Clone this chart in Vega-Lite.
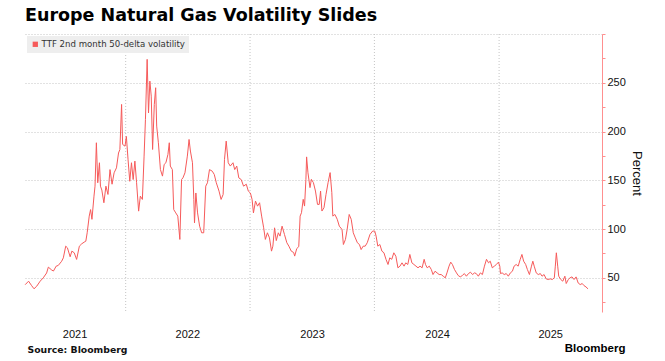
{
  "$schema": "https://vega.github.io/schema/vega-lite/v6.json",
  "width": 577,
  "height": 278,
  "autosize": {"type": "none"},
  "padding": {"left": 25, "top": 34, "right": 63, "bottom": 49},
  "background": "white",
  "title": {"text": "Europe Natural Gas Volatility Slides", "anchor": "start", "frame": "group", "font": "DejaVu Sans", "fontSize": 17.5, "fontWeight": "bold", "color": "#000000", "offset": 4},
  "datasets": {
    "grid": [{"date": "2022-01-01"}, {"date": "2023-01-01"}, {"date": "2024-01-01"}, {"date": "2025-01-01"}],
    "vol": [
      {"date": "2021-03-12", "v": 43}, {"date": "2021-03-22", "v": 46.6}, {"date": "2021-03-31", "v": 42}, {"date": "2021-04-07", "v": 38.8}, {"date": "2021-04-15", "v": 41.5}, {"date": "2021-04-25", "v": 46.6}, {"date": "2021-05-04", "v": 50}, {"date": "2021-05-14", "v": 55}, {"date": "2021-05-19", "v": 61}, {"date": "2021-05-29", "v": 58}, {"date": "2021-06-03", "v": 57}, {"date": "2021-06-11", "v": 62}, {"date": "2021-06-17", "v": 62.7}, {"date": "2021-06-27", "v": 67}, {"date": "2021-07-02", "v": 70.5}, {"date": "2021-07-09", "v": 82.5}, {"date": "2021-07-14", "v": 80.8}, {"date": "2021-07-22", "v": 71.6}, {"date": "2021-07-27", "v": 77.4}, {"date": "2021-08-03", "v": 75.7}, {"date": "2021-08-10", "v": 68.9}, {"date": "2021-08-18", "v": 82.5}, {"date": "2021-08-25", "v": 84.9}, {"date": "2021-09-01", "v": 86.6}, {"date": "2021-09-06", "v": 87.6}, {"date": "2021-09-10", "v": 96.2}, {"date": "2021-09-16", "v": 113.3}, {"date": "2021-09-20", "v": 120}, {"date": "2021-09-24", "v": 110}, {"date": "2021-09-30", "v": 133.8}, {"date": "2021-10-03", "v": 144}, {"date": "2021-10-07", "v": 188.5}, {"date": "2021-10-11", "v": 147.5}, {"date": "2021-10-16", "v": 168}, {"date": "2021-10-19", "v": 144}, {"date": "2021-10-23", "v": 140}, {"date": "2021-10-29", "v": 127}, {"date": "2021-11-04", "v": 144}, {"date": "2021-11-10", "v": 135.5}, {"date": "2021-11-16", "v": 161}, {"date": "2021-11-22", "v": 146}, {"date": "2021-11-28", "v": 157.7}, {"date": "2021-12-05", "v": 162.8}, {"date": "2021-12-11", "v": 178}, {"date": "2021-12-15", "v": 181.6}, {"date": "2021-12-20", "v": 227.8}, {"date": "2021-12-23", "v": 186.8}, {"date": "2021-12-30", "v": 185},
      {"date": "2022-01-03", "v": 195}, {"date": "2022-01-08", "v": 171}, {"date": "2022-01-13", "v": 149}, {"date": "2022-01-18", "v": 168}, {"date": "2022-01-23", "v": 150.8}, {"date": "2022-01-28", "v": 169.7}, {"date": "2022-02-02", "v": 147.5}, {"date": "2022-02-08", "v": 118.4}, {"date": "2022-02-13", "v": 133.8}, {"date": "2022-02-19", "v": 130.4}, {"date": "2022-02-24", "v": 174.8}, {"date": "2022-02-28", "v": 212.4}, {"date": "2022-03-05", "v": 274}, {"date": "2022-03-09", "v": 219}, {"date": "2022-03-13", "v": 251.7}, {"date": "2022-03-17", "v": 236.3}, {"date": "2022-03-21", "v": 181.6}, {"date": "2022-03-26", "v": 227.8}, {"date": "2022-03-30", "v": 244.9}, {"date": "2022-04-02", "v": 205.6}, {"date": "2022-04-07", "v": 188.5}, {"date": "2022-04-13", "v": 161}, {"date": "2022-04-19", "v": 154.3}, {"date": "2022-04-24", "v": 166.3}, {"date": "2022-04-29", "v": 168}, {"date": "2022-05-05", "v": 176.5}, {"date": "2022-05-09", "v": 188.5}, {"date": "2022-05-12", "v": 164.6}, {"date": "2022-05-18", "v": 161}, {"date": "2022-05-22", "v": 120}, {"date": "2022-05-28", "v": 116.6}, {"date": "2022-06-03", "v": 113.3}, {"date": "2022-06-09", "v": 89.4}, {"date": "2022-06-14", "v": 150.8}, {"date": "2022-06-18", "v": 152.5}, {"date": "2022-06-24", "v": 157.7}, {"date": "2022-07-01", "v": 174.8}, {"date": "2022-07-06", "v": 191.9}, {"date": "2022-07-10", "v": 180}, {"date": "2022-07-16", "v": 168}, {"date": "2022-07-20", "v": 130.4}, {"date": "2022-07-22", "v": 106.4}, {"date": "2022-07-26", "v": 137}, {"date": "2022-07-31", "v": 116.6}, {"date": "2022-08-06", "v": 103}, {"date": "2022-08-12", "v": 96.2}, {"date": "2022-08-18", "v": 96.2}, {"date": "2022-08-24", "v": 144}, {"date": "2022-08-29", "v": 147.5}, {"date": "2022-09-04", "v": 161}, {"date": "2022-09-12", "v": 159.4}, {"date": "2022-09-18", "v": 156}, {"date": "2022-09-24", "v": 147.5}, {"date": "2022-10-02", "v": 138.9}, {"date": "2022-10-08", "v": 130.4}, {"date": "2022-10-14", "v": 135.5}, {"date": "2022-10-18", "v": 171.4}, {"date": "2022-10-23", "v": 190.2}, {"date": "2022-10-29", "v": 168}, {"date": "2022-11-04", "v": 164.6}, {"date": "2022-11-12", "v": 168}, {"date": "2022-11-17", "v": 161}, {"date": "2022-11-23", "v": 164.6}, {"date": "2022-11-29", "v": 152.5}, {"date": "2022-12-06", "v": 150.8}, {"date": "2022-12-13", "v": 144}, {"date": "2022-12-21", "v": 146}, {"date": "2022-12-27", "v": 138.9},
      {"date": "2023-01-02", "v": 137}, {"date": "2023-01-07", "v": 130.4}, {"date": "2023-01-11", "v": 116.6}, {"date": "2023-01-17", "v": 128.7}, {"date": "2023-01-23", "v": 123.5}, {"date": "2023-01-29", "v": 127}, {"date": "2023-02-04", "v": 113.3}, {"date": "2023-02-10", "v": 101.3}, {"date": "2023-02-15", "v": 89.4}, {"date": "2023-02-21", "v": 96.2}, {"date": "2023-02-27", "v": 91}, {"date": "2023-03-05", "v": 77.4}, {"date": "2023-03-09", "v": 82.5}, {"date": "2023-03-14", "v": 101.3}, {"date": "2023-03-19", "v": 88.2}, {"date": "2023-03-25", "v": 96.2}, {"date": "2023-03-30", "v": 92.8}, {"date": "2023-04-05", "v": 103}, {"date": "2023-04-12", "v": 94.5}, {"date": "2023-04-19", "v": 86}, {"date": "2023-04-25", "v": 82.5}, {"date": "2023-05-02", "v": 77.4}, {"date": "2023-05-09", "v": 76}, {"date": "2023-05-12", "v": 72.3}, {"date": "2023-05-18", "v": 80}, {"date": "2023-05-24", "v": 82}, {"date": "2023-05-28", "v": 113.3}, {"date": "2023-06-01", "v": 116.8}, {"date": "2023-06-06", "v": 130.5}, {"date": "2023-06-10", "v": 123.6}, {"date": "2023-06-14", "v": 151}, {"date": "2023-06-16", "v": 174}, {"date": "2023-06-20", "v": 157.7}, {"date": "2023-06-26", "v": 142.5}, {"date": "2023-06-30", "v": 151}, {"date": "2023-07-06", "v": 147.6}, {"date": "2023-07-12", "v": 139}, {"date": "2023-07-18", "v": 125.3}, {"date": "2023-07-23", "v": 125.3},
      {"date": "2023-07-27", "v": 139}, {"date": "2023-07-31", "v": 118.5}, {"date": "2023-08-06", "v": 121.9}, {"date": "2023-08-12", "v": 135.6}, {"date": "2023-08-18", "v": 147.6}, {"date": "2023-08-24", "v": 157.9}, {"date": "2023-08-29", "v": 137.3}, {"date": "2023-09-01", "v": 113.3}, {"date": "2023-09-07", "v": 115}, {"date": "2023-09-14", "v": 110}, {"date": "2023-09-20", "v": 103}, {"date": "2023-09-28", "v": 99.6}, {"date": "2023-10-02", "v": 84.2}, {"date": "2023-10-08", "v": 89.4}, {"date": "2023-10-13", "v": 99.6}, {"date": "2023-10-19", "v": 115}, {"date": "2023-10-25", "v": 110}, {"date": "2023-10-31", "v": 96.2}, {"date": "2023-11-06", "v": 91}, {"date": "2023-11-12", "v": 86}, {"date": "2023-11-18", "v": 84.2}, {"date": "2023-11-23", "v": 79}, {"date": "2023-11-29", "v": 82.5}, {"date": "2023-12-05", "v": 82.5}, {"date": "2023-12-11", "v": 86}, {"date": "2023-12-19", "v": 94.5}, {"date": "2023-12-27", "v": 98},
      {"date": "2024-01-02", "v": 98}, {"date": "2024-01-06", "v": 92.8}, {"date": "2024-01-11", "v": 82.5}, {"date": "2024-01-17", "v": 84.2}, {"date": "2024-01-23", "v": 77.4}, {"date": "2024-01-29", "v": 75.7}, {"date": "2024-02-04", "v": 69}, {"date": "2024-02-10", "v": 63.7}, {"date": "2024-02-15", "v": 70.5}, {"date": "2024-02-21", "v": 69}, {"date": "2024-02-27", "v": 75.7}, {"date": "2024-03-04", "v": 72.2}, {"date": "2024-03-10", "v": 60.3}, {"date": "2024-03-16", "v": 62}, {"date": "2024-03-22", "v": 65.4}, {"date": "2024-03-28", "v": 62}, {"date": "2024-04-02", "v": 65.4}, {"date": "2024-04-08", "v": 63.7}, {"date": "2024-04-14", "v": 74}, {"date": "2024-04-20", "v": 65.4}, {"date": "2024-04-26", "v": 63.7}, {"date": "2024-05-02", "v": 62}, {"date": "2024-05-08", "v": 60.3}, {"date": "2024-05-14", "v": 62}, {"date": "2024-05-20", "v": 60.3}, {"date": "2024-05-26", "v": 69}, {"date": "2024-05-30", "v": 63.7}, {"date": "2024-06-04", "v": 60.3}, {"date": "2024-06-10", "v": 62}, {"date": "2024-06-16", "v": 58.6}, {"date": "2024-06-21", "v": 53.4}, {"date": "2024-06-27", "v": 56.8}, {"date": "2024-07-03", "v": 55.1}, {"date": "2024-07-09", "v": 53.4}, {"date": "2024-07-15", "v": 53.4}, {"date": "2024-07-21", "v": 51.7}, {"date": "2024-07-27", "v": 50}, {"date": "2024-08-01", "v": 55.1}, {"date": "2024-08-07", "v": 62}, {"date": "2024-08-12", "v": 66.1}, {"date": "2024-08-17", "v": 63.7}, {"date": "2024-08-23", "v": 58.6}, {"date": "2024-08-29", "v": 55.1}, {"date": "2024-09-03", "v": 52.4}, {"date": "2024-09-09", "v": 51}, {"date": "2024-09-15", "v": 52.4}, {"date": "2024-09-21", "v": 54.4}, {"date": "2024-09-27", "v": 51.7}, {"date": "2024-10-03", "v": 54.4}, {"date": "2024-10-09", "v": 55.8}, {"date": "2024-10-15", "v": 53.4}, {"date": "2024-10-21", "v": 55.1}, {"date": "2024-10-26", "v": 54.4}, {"date": "2024-11-01", "v": 51.7}, {"date": "2024-11-07", "v": 55.1}, {"date": "2024-11-13", "v": 53.4}, {"date": "2024-11-19", "v": 62}, {"date": "2024-11-25", "v": 69}, {"date": "2024-12-01", "v": 65.4}, {"date": "2024-12-06", "v": 67.1}, {"date": "2024-12-12", "v": 60.3}, {"date": "2024-12-18", "v": 62}, {"date": "2024-12-24", "v": 63.7}, {"date": "2024-12-30", "v": 66.1},
      {"date": "2025-01-03", "v": 62}, {"date": "2025-01-05", "v": 54.4}, {"date": "2025-01-10", "v": 55.1}, {"date": "2025-01-16", "v": 53.4}, {"date": "2025-01-22", "v": 54.4}, {"date": "2025-01-28", "v": 51.7}, {"date": "2025-02-03", "v": 55.1}, {"date": "2025-02-09", "v": 56.8}, {"date": "2025-02-14", "v": 62}, {"date": "2025-02-20", "v": 63.7}, {"date": "2025-02-26", "v": 62}, {"date": "2025-03-04", "v": 69}, {"date": "2025-03-09", "v": 74}, {"date": "2025-03-14", "v": 67.1}, {"date": "2025-03-20", "v": 63.7}, {"date": "2025-03-25", "v": 58.6}, {"date": "2025-03-31", "v": 53.4}, {"date": "2025-04-06", "v": 62}, {"date": "2025-04-10", "v": 67.1}, {"date": "2025-04-14", "v": 62}, {"date": "2025-04-20", "v": 55.1}, {"date": "2025-04-26", "v": 53.4}, {"date": "2025-05-02", "v": 54.4}, {"date": "2025-05-07", "v": 51.7}, {"date": "2025-05-13", "v": 53.4}, {"date": "2025-05-19", "v": 49}, {"date": "2025-05-25", "v": 48.3}, {"date": "2025-05-31", "v": 49}, {"date": "2025-06-06", "v": 48.3}, {"date": "2025-06-12", "v": 50}, {"date": "2025-06-15", "v": 62}, {"date": "2025-06-18", "v": 75.7}, {"date": "2025-06-22", "v": 62}, {"date": "2025-06-25", "v": 51.7}, {"date": "2025-07-01", "v": 48.3}, {"date": "2025-07-07", "v": 46.6}, {"date": "2025-07-13", "v": 51.7}, {"date": "2025-07-17", "v": 44.2}, {"date": "2025-07-23", "v": 48.3}, {"date": "2025-07-28", "v": 50}, {"date": "2025-08-03", "v": 51}, {"date": "2025-08-09", "v": 48.3}, {"date": "2025-08-15", "v": 51}, {"date": "2025-08-21", "v": 44.8}, {"date": "2025-08-27", "v": 43.1}, {"date": "2025-09-02", "v": 44.2}, {"date": "2025-09-07", "v": 42.1}, {"date": "2025-09-13", "v": 40.7}, {"date": "2025-09-19", "v": 38.7}
    ]
  },
  "layer": [
    {
      "data": {"name": "grid"},
      "mark": {"type": "rule", "strokeDash": [1, 2], "color": "#c4c4c4", "strokeWidth": 1},
      "encoding": {
        "x": {
          "field": "date", "type": "temporal",
          "scale": {"domain": ["2021-03-11T12:00:00", "2025-10-30T00:00:00"], "nice": false},
          "axis": {"orient": "bottom", "labels": false, "ticks": false, "domain": false, "grid": false,
            "title": "Bloomberg", "titleFont": "Liberation Sans", "titleFontWeight": "bold", "titleFontSize": 11.5, "titleColor": "#000000",
            "titleAnchor": "end", "titleAlign": "right", "titleBaseline": "alphabetic", "titleX": 600, "titleY": 39}
        }
      }
    },
    {
      "data": {"name": "vol"},
      "mark": {"type": "line", "strokeWidth": 1},
      "encoding": {
        "x": {
          "field": "date", "type": "temporal",
          "scale": {"domain": ["2021-03-11T12:00:00", "2025-10-30T00:00:00"], "nice": false},
          "axis": {"orient": "bottom",
            "values": [{"year": 2021, "month": 8, "date": 4}, {"year": 2022, "month": 7, "date": 1}, {"year": 2023, "month": 7, "date": 2}, {"year": 2024, "month": 7, "date": 3}, {"year": 2025, "month": 5, "date": 31}],
            "format": "%Y", "grid": false, "ticks": false, "domain": false, "labelOverlap": false, "labelFlush": false,
            "labelFont": "Liberation Sans", "labelFontSize": 11, "labelColor": "#111111", "labelPadding": 16,
            "title": "Source: Bloomberg", "titleFont": "DejaVu Sans", "titleFontWeight": "bold", "titleFontSize": 9.3, "titleColor": "#111111",
            "titleAnchor": "start", "titleAlign": "left", "titleBaseline": "alphabetic", "titleX": 2, "titleY": 40}
        },
        "y": {
          "field": "v", "type": "quantitative",
          "scale": {"domain": [15, 300], "nice": false, "zero": false},
          "axis": {"orient": "right",
            "values": [25, 50, 75, 100, 125, 150, 175, 200, 225, 250, 275, 300],
            "labelExpr": "datum.value % 50 == 0 && datum.value < 300 ? datum.label : ''",
            "labelOverlap": false, "labelFont": "Liberation Sans", "labelFontSize": 11, "labelColor": "#111111", "labelPadding": 2,
            "domainColor": "#ff8f8f", "tickColor": "#ff8f8f", "tickSize": 3,
            "grid": true, "gridDash": [1, 2], "gridColor": "#c4c4c4",
            "gridOpacity": {"condition": {"test": "datum.value % 50 == 0", "value": 1}, "value": 0},
            "title": "Percent", "titleFont": "Liberation Sans", "titleFontSize": 13, "titleFontWeight": "normal", "titleColor": "#111111", "titlePadding": 4}
        },
        "color": {
          "datum": "TTF 2nd month 50-delta volatility",
          "type": "nominal",
          "scale": {"range": ["#f65a5a"]},
          "legend": {"orient": "top-left", "offset": 2, "padding": 4, "fillColor": "#eeeeee", "title": null,
            "symbolType": "square", "symbolSize": 28, "symbolFillColor": "#f65a5a", "symbolStrokeColor": "#f65a5a", "symbolStrokeWidth": 0,
            "labelFont": "DejaVu Sans", "labelFontSize": 8.6, "labelColor": "#333333", "labelOffset": 2}
        }
      }
    }
  ],
  "resolve": {"axis": {"x": "independent"}},
  "config": {"view": {"stroke": null}}
}
